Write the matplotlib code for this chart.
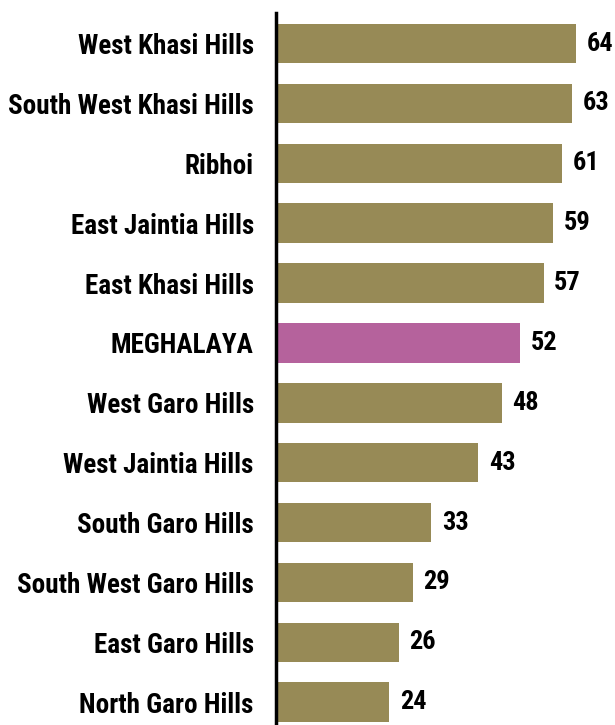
import matplotlib.pyplot as plt

districts = ['West Khasi Hills', 'South West Khasi Hills', 'Ribhoi',
             'East Jaintia Hills', 'East Khasi Hills', 'MEGHALAYA',
             'West Garo Hills', 'West Jaintia Hills', 'South Garo Hills',
             'South West Garo Hills', 'East Garo Hills', 'North Garo Hills']
values = [64, 63, 61, 59, 57, 52, 48, 43, 33, 29, 26, 24]

plt.rcParams['font.family'] = ['Roboto Condensed', 'DejaVu Sans']
plt.rcParams['font.weight'] = 'bold'

olive = '#978a56'
pink = '#b5629c'
colors = [pink if d == 'MEGHALAYA' else olive for d in districts]

fig = plt.figure(figsize=(6.15, 7.25), dpi=100)
ax = fig.add_axes([0.4488, 0.0, 0.5512, 0.982])

pos = list(range(len(districts)))
ax.barh(pos, values, height=0.66, color=colors)

# value labels at the end of each bar
for p, v in zip(pos, values):
    ax.text(v + 2.3, p, str(v), va='center', ha='left', fontsize=19)

ax.set_ylim(11.38, -0.51)
ax.set_xlim(-0.3, 72.3)
ax.set_yticks(pos)
ax.set_yticklabels(districts)
ax.tick_params(axis='y', length=0, pad=16, labelsize=19.5)
ax.set_xticks([])

for s in ['top', 'right', 'bottom']:
    ax.spines[s].set_visible(False)
ax.spines['left'].set_linewidth(2.5)
ax.spines['left'].set_position(('data', -0.3))

plt.savefig('out.png', dpi=100)
